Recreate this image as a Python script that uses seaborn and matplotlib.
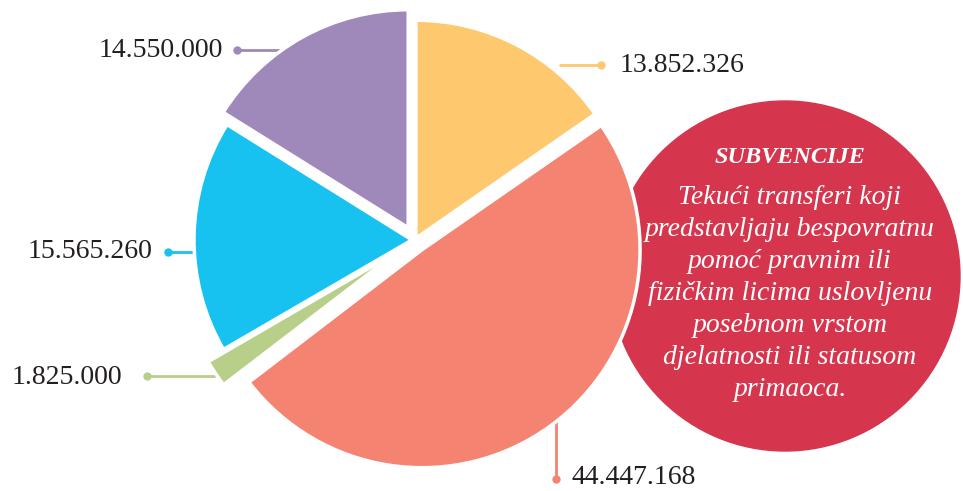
import numpy as np
import pandas as pd
import matplotlib.pyplot as plt
import seaborn as sns
from matplotlib.patches import Circle


# Values
labels = ["13.852.326", "44.447.168", "1.825.000", "15.565.260", "14.550.000"]
values = [13852326, 44447168, 1825000, 15565260, 14550000]
colors = ["#FDC86E", "#F48372", "#B8CF8A", "#17C1F0", "#9E89BA"]
explode = [2, 12, 22, 3, 14]

title = "SUBVENCIJE"
body = ["Tekući transferi koji",
        "predstavljaju bespovratnu",
        "pomoć pravnim ili",
        "fizičkim licima uslovljenu",
        "posebnom vrstom",
        "djelatnosti ili statusom",
        "primaoca."]

W, H = 963, 491


# picture pixels are measured from the top, axes go from the bottom
def Y(p):
    return H - p


def drawPie(ax, df):
    ax.pie(df["value"], colors=sns.color_palette(colors), startangle=90,
           counterclock=False, explode=df["explode"], center=(415, Y(240)),
           radius=218, frame=True,
           wedgeprops=dict(edgecolor="white", linewidth=2.5, zorder=2))


# leader lines with a dot at the label end, partly hidden under the wedges
def drawLeaders(ax):
    leaders = [((601, 65), (560, 65), colors[0], (620, 65), "left"),
               ((556, 479), (556, 400), colors[1], (572, 478), "left"),
               ((147, 376), (230, 376), colors[2], (122, 378), "right"),
               ((168, 252), (215, 252), colors[3], (152, 252), "right"),
               ((237, 50), (300, 50), colors[4], (223, 50), "right")]
    for (d, e, c, t, ha), lab in zip(leaders, labels):
        ax.plot([d[0], e[0]], [Y(d[1]), Y(e[1])], color=c, lw=2, zorder=0)
        ax.plot(d[0], Y(d[1]), "o", color=c, ms=5, zorder=0)
        ax.text(t[0], Y(t[1]), lab, ha=ha, va="center", fontsize=20,
                family="Liberation Serif", color="#231F20")


# red note circle sits behind the salmon slice
def drawNote(ax):
    ax.add_patch(Circle((785, Y(276)), 175, color="#D6354E", zorder=1))
    ax.text(790, Y(157), title, ha="center", va="center", fontsize=17.5,
            family="Liberation Serif", style="italic", weight="bold",
            color="white", zorder=6)
    for i, line in enumerate(body):
        ax.text(790, Y(197 + 32 * i), line, ha="center", va="center",
                fontsize=20, family="Liberation Serif", style="italic",
                color="white", zorder=6)


if __name__ == "__main__":
    sns.set_theme(style="white")
    df = pd.DataFrame({"label": labels, "value": values, "explode": explode})

    fig = plt.figure(figsize=(W / 100, H / 100), dpi=100)
    ax = fig.add_axes([0, 0, 1, 1])
    drawPie(ax, df)
    drawLeaders(ax)
    drawNote(ax)
    ax.set_xlim(0, W)
    ax.set_ylim(0, H)
    ax.set_aspect("equal")
    ax.axis("off")
    fig.savefig("out.png", dpi=100)
